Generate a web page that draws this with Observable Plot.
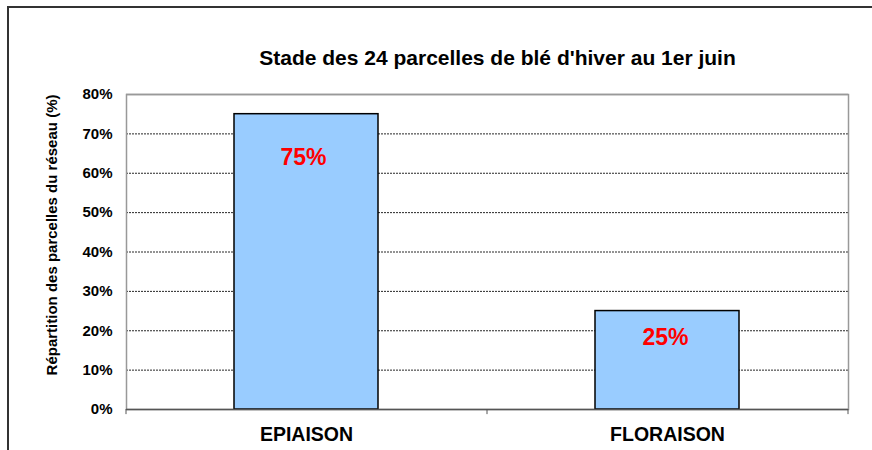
<!DOCTYPE html>
<html><head><meta charset="utf-8">
<script src="https://cdn.jsdelivr.net/npm/d3@7"></script>
<script src="https://cdn.jsdelivr.net/npm/@observablehq/plot@0.6"></script>
<style>
body{margin:0;background:#fff;font-family:"Liberation Sans",Arial,sans-serif;}
#wrap{position:relative;width:872px;height:450px;overflow:hidden;}
#border{position:absolute;left:7px;top:6px;width:900px;height:500px;border-top:2px solid #333;border-left:2px solid #333;box-sizing:border-box;pointer-events:none;}
</style></head>
<body><div id="wrap"><div id="border"></div></div>
<script>
const categories = ["EPIAISON", "FLORAISON"];
const values = [0.75, 0.25];
const yTicks = [0, 0.1, 0.2, 0.3, 0.4, 0.5, 0.6, 0.7, 0.8];
const title = "Stade des 24 parcelles de blé d'hiver au 1er juin";
const yLabel = "Répartition des parcelles du réseau (%)";

const data = categories.map((c, i) => ({cat: c, v: values[i]}));
const step = (872 - 126 - 24) / categories.length;
const fmt = d => Math.round(d * 100) + "%";

const chart = Plot.plot({
  width: 872, height: 450,
  marginLeft: 126, marginRight: 24, marginTop: 94, marginBottom: 41,
  style: {fontFamily: '"Liberation Sans", Arial, sans-serif', background: "transparent", overflow: "visible"},
  x: {domain: categories, paddingInner: 0.6, paddingOuter: 0.3, label: null, axis: null},
  y: {domain: [0, 0.8], label: null, axis: null},
  marks: [
    Plot.gridY(yTicks.slice(1, -1), {stroke: "#000", strokeOpacity: 0.85, strokeDasharray: "2,1"}),
    Plot.frame({stroke: "#999", strokeWidth: 1.5}),
    Plot.barY(data, {x: "cat", y: "v", fill: "#99CCFF", stroke: "#000", strokeWidth: 1.5}),
    Plot.ruleY([0], {stroke: "#555", strokeWidth: 1.5}),
    Plot.ruleY([0.8], {stroke: "#999", strokeWidth: 1.5}),
    Plot.axisY({ticks: yTicks, tickFormat: fmt, tickSize: 4, tickPadding: 10, fontSize: 15, fontWeight: "bold", fill: "#000", stroke: null, label: null, line: true}),
    Plot.ruleX([categories[0]], {x: d => d, dx: -step / 2, y1: 0, y2: -0.013, stroke: "#555"}),
    Plot.ruleX(categories, {x: d => d, dx: step / 2, y1: 0, y2: -0.013, stroke: "#555"}),
    Plot.axisX({tickSize: 0, tickPadding: 18, fontSize: 19.5, fontWeight: "bold", fill: "#000", label: null}),
    Plot.text(data.filter(d => d.v > 0.5), {x: "cat", y: "v", text: d => fmt(d.v), dx: -3, dy: 43, fill: "#FF0000", fontSize: 23, fontWeight: "bold"}),
    Plot.text(data.filter(d => d.v <= 0.5), {x: "cat", y: "v", text: d => fmt(d.v), dx: -2, dy: 27, fill: "#FF0000", fontSize: 23, fontWeight: "bold"}),
    Plot.text([title], {frameAnchor: "top", dx: 10, dy: -44, fontSize: 21, fontWeight: "bold", fill: "#000"}),
    Plot.text([yLabel], {frameAnchor: "left", textAnchor: "middle", dx: -74, dy: -17, rotate: -90, fontSize: 15, fontWeight: "bold", fill: "#000"})
  ]
});
document.getElementById("wrap").prepend(chart);
</script></body></html>
